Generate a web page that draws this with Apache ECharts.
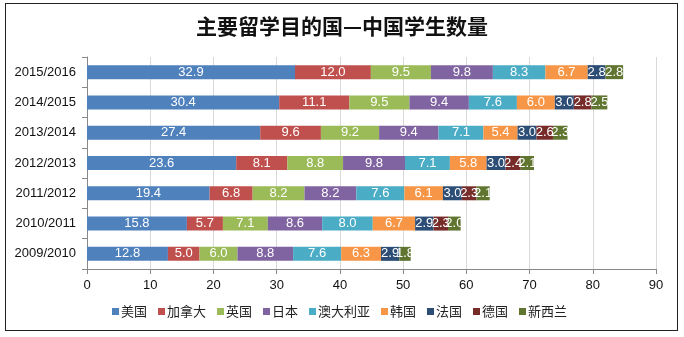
<!DOCTYPE html>
<html><head><meta charset="utf-8">
<script src="https://cdn.jsdelivr.net/npm/echarts@6/dist/echarts.min.js"></script>
<style>html,body{margin:0;padding:0;background:#fff}#c{width:684px;height:337px}#frame{position:absolute;left:5px;top:3px;width:673px;height:328px;border:1px solid #222;box-sizing:border-box;pointer-events:none}</style>
</head><body><div id="c"></div><div id="frame"></div>
<script>
const categories = ['2009/2010','2010/2011','2011/2012','2012/2013','2013/2014','2014/2015','2015/2016'];
const seriesNames = ['美国','加拿大','英国','日本','澳大利亚','韩国','法国','德国','新西兰'];
const usa       = [12.8, 15.8, 19.4, 23.6, 27.4, 30.4, 32.9];
const canada    = [5.0, 5.7, 6.8, 8.1, 9.6, 11.1, 12.0];
const uk        = [6.0, 7.1, 8.2, 8.8, 9.2, 9.5, 9.5];
const japan     = [8.8, 8.6, 8.2, 9.8, 9.4, 9.4, 9.8];
const australia = [7.6, 8.0, 7.6, 7.1, 7.1, 7.6, 8.3];
const korea     = [6.3, 6.7, 6.1, 5.8, 5.4, 6.0, 6.7];
const france    = [2.9, 2.9, 3.0, 3.0, 3.0, 3.0, 2.8];
const germany   = [null, 2.3, 2.3, 2.4, 2.6, 2.8, null];
const newZealand= [1.8, 2.0, 2.1, 2.1, 2.3, 2.5, 2.8];
const xTicks = [0,10,20,30,40,50,60,70,80,90];
const values = [usa, canada, uk, japan, australia, korea, france, germany, newZealand];
const colors = ['#4F81BD','#C0504D','#9BBB59','#8064A2','#4BACC6','#F79646','#2C4D75','#772C2A','#5F7530'];

const chart = echarts.init(document.getElementById('c'));
chart.setOption({
  animation:false,
  title:{text:'主要留学目的国—中国学生数量',left:'center',top:11,
    textStyle:{fontFamily:'Noto Sans CJK SC',fontSize:21,fontWeight:'bold',color:'#111'}},
  grid:{left:87,right:28,top:57,bottom:68},
  legend:{bottom:14,left:107,itemWidth:7,itemHeight:7,itemGap:11,icon:'rect',
    textStyle:{fontFamily:'Noto Sans CJK SC',fontSize:13,color:'#222',padding:[0,0,0,-3]},
    data:seriesNames},
  xAxis:{type:'value',min:xTicks[0],max:xTicks[xTicks.length-1],interval:10,
    axisLine:{show:true,lineStyle:{color:'#888'}},
    axisTick:{show:true,length:5,inside:false,lineStyle:{color:'#888'}},
    axisLabel:{fontFamily:'Liberation Sans',fontSize:13,color:'#111',margin:10},
    splitLine:{show:true,lineStyle:{color:'#d9d9d9'}}},
  yAxis:{type:'category',data:categories,
    axisLine:{lineStyle:{color:'#888'}},
    axisTick:{show:true,length:5,lineStyle:{color:'#888'}},
    axisLabel:{fontFamily:'Liberation Sans',fontSize:13,color:'#111',margin:11}},
  series: seriesNames.map((n,i)=>({
    name:n,type:'bar',stack:'total',barWidth:14,
    data:values[i],
    itemStyle:{color:colors[i]},
    label:{show:true,position:'inside',color:'#fff',fontFamily:'Liberation Sans',fontSize:13,
      formatter:p=>p.value==null?'':Number(p.value).toFixed(1)}
  }))
});
</script></body></html>
